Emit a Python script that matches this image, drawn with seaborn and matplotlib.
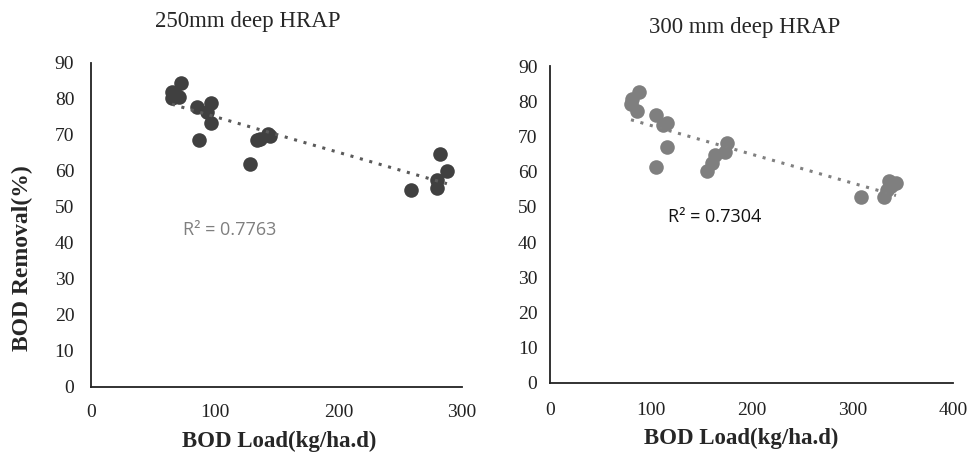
import numpy as np
import pandas as pd
import matplotlib
matplotlib.use("Agg")
import matplotlib.pyplot as plt
import seaborn as sns

# BOD load (kg/ha.d) vs BOD removal (%) for the two pond depths
load_250 = [65.5, 65.5, 71, 73, 69, 86, 97, 93.8, 97, 87.3, 128.5, 134, 137,
            144.7, 143, 282, 287.8, 279.7, 279.7, 258.7]
removal_250 = [81.9, 80.3, 80.5, 84.4, 81.0, 77.8, 78.9, 76.4, 73.3, 68.6,
               61.9, 68.6, 69.0, 69.7, 70.3, 64.7, 60.0, 57.5, 55.3, 54.7]

load_300 = [88.3, 81.4, 80.4, 86.4, 105.2, 112, 116, 116, 105, 155.8, 160.8,
            163.8, 173.7, 175.7, 308.6, 331.5, 334.5, 336.5, 338.5, 343.4]
removal_300 = [82.6, 80.6, 79.2, 77.2, 76.1, 73.2, 73.8, 67.0, 61.3, 60.2,
               62.5, 64.7, 65.6, 68.1, 52.8, 52.8, 54.8, 57.4, 55.9, 56.8]

titles = ["250mm deep HRAP", "300 mm deep HRAP"]
r2_labels = ["R² = 0.7763", "R² = 0.7304"]
xticks_250 = [0, 100, 200, 300]
xticks_300 = [0, 100, 200, 300, 400]
yticks = list(range(0, 91, 10))

sns.set_theme(style="white")
serif = ["Liberation Serif", "DejaVu Serif"]
plt.rcParams["font.family"] = serif

df250 = pd.DataFrame({"load": load_250, "removal": removal_250})
df300 = pd.DataFrame({"load": load_300, "removal": removal_300})

fig = plt.figure(figsize=(9.7, 4.54), dpi=100)
ax1 = fig.add_axes([0.0938, 0.1476, 0.3825, 0.7137])
ax2 = fig.add_axes([0.567, 0.1564, 0.4155, 0.6982])

specs = [
    (ax1, df250, "#404040", "#5a5a5a", xticks_250, 300, 12.5, 12),
    (ax2, df300, "#7f7f7f", "#808080", xticks_300, 400, 14, 9),
]
for ax, df, dot_c, line_c, xt, xmax, xpad, ypad in specs:
    sns.regplot(data=df, x="load", y="removal", ax=ax, ci=None,
                scatter_kws=dict(s=110, color=dot_c, alpha=1, linewidths=0),
                line_kws=dict(color=line_c, linestyle=(0, (1, 2.2)), linewidth=2.2))
    ax.set_xlim(0, xmax)
    ax.set_ylim(0, 90)
    ax.set_xticks(xt)
    ax.set_yticks(yticks)
    ax.set_xlabel("")
    ax.set_ylabel("")
    for side in ("top", "right"):
        ax.spines[side].set_visible(False)
    for side in ("left", "bottom"):
        ax.spines[side].set_color("#222222")
        ax.spines[side].set_linewidth(1.3)
    ax.tick_params(axis="x", length=0, pad=xpad, labelsize=14, colors="#222222")
    ax.tick_params(axis="y", length=0, pad=ypad, labelsize=14, colors="#222222")
    ax.grid(False)

# panel titles
fig.text(248 / 970, 1 - 22 / 454, titles[0], ha="center", va="center", fontsize=16.5)
fig.text(745 / 970, 1 - 27 / 454, titles[1], ha="center", va="center", fontsize=16.5)

# axis labels
fig.text(279 / 970, 1 - 441 / 454, "BOD Load(kg/ha.d)", ha="center", va="center",
         fontsize=16.5, fontweight="bold")
fig.text(741 / 970, 1 - 438 / 454, "BOD Load(kg/ha.d)", ha="center", va="center",
         fontsize=16.5, fontweight="bold")
fig.text(22 / 970, 1 - 258 / 454, "BOD Removal(%)", ha="center", va="center",
         rotation=90, fontsize=17, fontweight="bold")

# coefficient of determination labels
sans = ["Open Sans", "DejaVu Sans"]
ax1.text(74, 43.5, r2_labels[0], ha="left", va="center", fontsize=13,
         color="#7f7f7f", family=sans)
ax2.text(117, 47.2, r2_labels[1], ha="left", va="center", fontsize=13,
         color="#111111", family=sans)

fig.savefig("out.png", dpi=100)
